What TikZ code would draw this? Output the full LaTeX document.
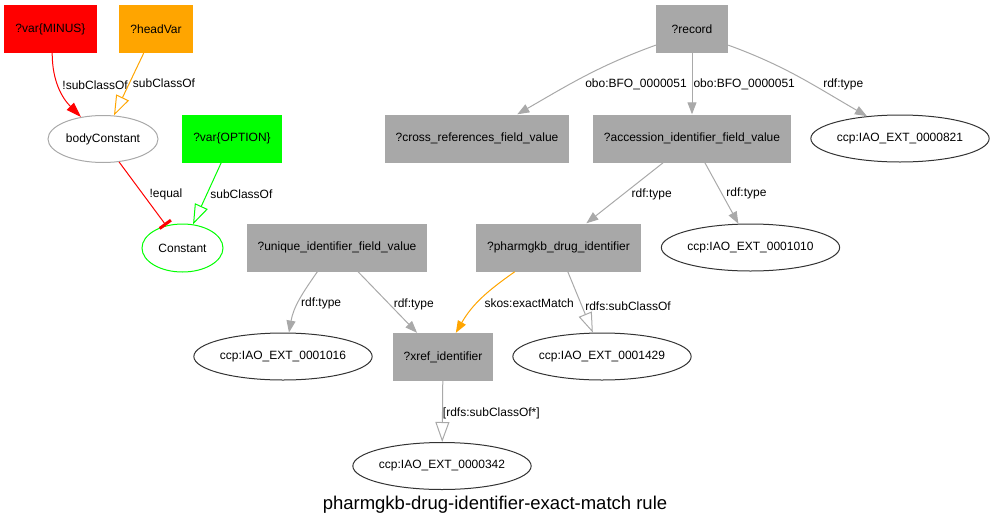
\documentclass[tikz,border=0pt]{standalone}
\usepackage{fontspec}
\setmainfont{Liberation Sans}
\usepackage{tikz}
\usetikzlibrary{positioning,calc,shapes,shapes.geometric,arrows.meta}
\definecolor{boxgray}{HTML}{A8A8A8}
\definecolor{linegray}{HTML}{A9A9A9}
\definecolor{ovalline}{HTML}{333333}
\definecolor{varred}{HTML}{FF0000}
\definecolor{varorange}{HTML}{FFA500}
\definecolor{vargreen}{HTML}{00FF00}
\tikzset{
	varbox/.style={rectangle, minimum width=72pt, minimum height=48pt, inner xsep=11pt, font=\fontsize{12}{14}\selectfont},
	termoval/.style={ellipse, draw=ovalline, line width=1pt, minimum width=171pt, minimum height=47pt, inner sep=0pt, font=\fontsize{12}{14}\selectfont},
	edgelabel/.style={inner sep=0pt, font=\fontsize{12}{14}\selectfont},
	opentip/.style={-{Triangle[open,length=20pt,width=14pt]}},
}
\newcommand{\boxnode}[4][]{
	\node [varbox, #1] (#2) at (#3) {#4};
}
\newcommand{\ovalnode}[4][]{
	\node [termoval, #1] (#2) at (#3) {#4};
}
\newcommand{\relation}[5][]
{
	% label goes right of the line
	\path [draw=linegray, line width=1pt, -{Triangle[length=12pt,width=9pt]}, #1] (#2) to node [edgelabel, #5] {#4} (#3);
}

\begin{document}
\begin{tikzpicture}[x=1pt, y=1pt]
		\useasboundingbox (0, 0) rectangle (991, -528);
		\boxnode[fill=varred]{minusVar}{50.5, -29}{?var\{MINUS\}}
		\boxnode[fill=varorange]{headVar}{156, -29}{?headVar}
		\ovalnode[draw=linegray, minimum width=110pt]{bodyConstant}{103, -139}{bodyConstant}
		\boxnode[fill=vargreen]{optionVar}{232, -138.5}{?var\{OPTION\}}
		\ovalnode[draw=vargreen, minimum width=81pt, minimum height=48pt]{constant}{182.5, -248}{Constant}
		\boxnode[fill=boxgray]{record}{692, -29}{?record}
		\boxnode[fill=boxgray]{crossRef}{477, -138.5}{?cross\_references\_field\_value}
		\boxnode[fill=boxgray]{accession}{692, -138.5}{?accession\_identifier\_field\_value}
		\ovalnode{iao821}{900, -138.5}{ccp:IAO\_EXT\_0000821}
		\boxnode[fill=boxgray]{uniqueId}{337, -247.5}{?unique\_identifier\_field\_value}
		\boxnode[fill=boxgray]{pharmgkb}{558.5, -247.5}{?pharmgkb\_drug\_identifier}
		\ovalnode{iao1010}{750.5, -247.5}{ccp:IAO\_EXT\_0001010}
		\ovalnode{iao1016}{283, -356.5}{ccp:IAO\_EXT\_0001016}
		\boxnode[fill=boxgray]{xref}{443, -357}{?xref\_identifier}
		\ovalnode{iao1429}{602, -356.5}{ccp:IAO\_EXT\_0001429}
		\ovalnode{iao342}{442, -466}{ccp:IAO\_EXT\_0000342}
		\node [font=\fontsize{18.5}{22}\selectfont] (title) at (495, -505) {pharmgkb-drug-identifier-exact-match rule};
		%	\relation{minusVar}{constant}{}{}
		\relation[draw=varred, -{Triangle[length=15pt,width=10pt]}, out=-90, in=135]{minusVar.-86}{bodyConstant.135}{!subClassOf}{pos=.45, right=4pt}
		\relation[draw=varorange, opentip]{headVar.-117}{bodyConstant.65}{subClassOf}{pos=.48, right=3pt}
		\relation[draw=varred, -{Bar[width=14pt,line width=3pt]}]{bodyConstant.-55}{constant.126}{!equal}{pos=.51, right=6pt}
		\relation[draw=vargreen, opentip]{optionVar.-114}{constant.66}{subClassOf}{pos=.51, right=3pt}
		\relation[out=-160, in=30]{record.-156}{crossRef.31}{obo:BFO\_0000051}{pos=.62, right=15pt}
		\relation{record}{accession}{obo:BFO\_0000051}{pos=.51, right=1pt}
		\relation[out=-20, in=150]{record.-24}{iao821.146}{rdf:type}{pos=.6, right=11pt}
		\relation{accession.-140}{pharmgkb.41}{rdf:type}{pos=.52, right=8pt}
		\relation{accession.-62}{iao1010.117}{rdf:type}{pos=.51, right=4pt}
		\relation[out=-125, in=80]{uniqueId.-129}{iao1016.76}{rdf:type}{pos=.56, right=3pt}
		\relation{uniqueId.-49}{xref.137}{rdf:type}{pos=.53, right=4pt}
		\relation[draw=varorange, out=-145, in=60]{pharmgkb.-151}{xref.62}{skos:exactMatch}{pos=.58, right=7pt}
		\relation[opentip]{pharmgkb.-69}{iao1429.111}{rdfs:subClassOf}{pos=.56, right=3pt}
		\relation[opentip]{xref}{iao342}{[rdfs:subClassOf*]}{pos=.53, right=0pt}
\end{tikzpicture}
\end{document}
